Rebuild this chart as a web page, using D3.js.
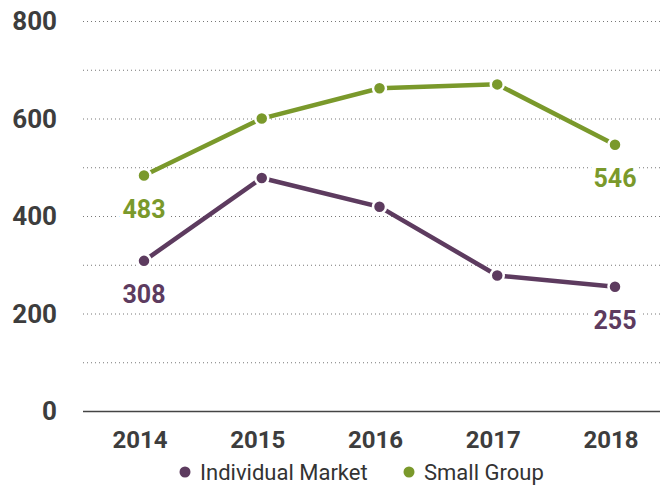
<!DOCTYPE html>
<html>
<head>
<meta charset="utf-8">
<script src="https://cdn.jsdelivr.net/npm/d3@7"></script>
<style>
  body { margin: 0; background: #fff; }
  svg text { font-family: Roboto, "Noto Sans", sans-serif; }
  .halo { paint-order: stroke; stroke: #fff; stroke-width: 10px; stroke-linejoin: round; }
</style>
</head>
<body>
<div id="chart"></div>
<script>
var years = ["2014", "2015", "2016", "2017", "2018"];
var individualMarket = [308, 478, 419, 278, 255];
var smallGroup = [483, 600, 662, 670, 546];
var yTicks = [0, 200, 400, 600, 800];
var gridTicks = [100, 200, 300, 400, 500, 600, 700, 800];

var width = 660, height = 486;
var purple = "#5d3b5f", green = "#7a992b";

var svg = d3.select("#chart").append("svg")
    .attr("width", width)
    .attr("height", height);

var x = d3.scalePoint().domain(years).range([144, 615]);
var y = d3.scaleLinear().domain([0, 800]).range([411, 21]);

// dotted grid
svg.append("g").selectAll("line")
    .data(gridTicks).enter()
    .append("line")
    .attr("x1", 83).attr("x2", 660)
    .attr("y1", function(d){ return y(d) + 0.5; })
    .attr("y2", function(d){ return y(d) + 0.5; })
    .attr("stroke", "#777")
    .attr("stroke-width", 1)
    .attr("stroke-dasharray", "1,3");

// baseline
svg.append("line")
    .attr("x1", 83).attr("x2", 660)
    .attr("y1", y(0) + 0.5).attr("y2", y(0) + 0.5)
    .attr("stroke", "#444")
    .attr("stroke-width", 1.5);

// y axis labels
svg.append("g").selectAll("text")
    .data(yTicks).enter()
    .append("text")
    .attr("x", 57)
    .attr("y", function(d){ return y(d); })
    .attr("dy", "0.36em")
    .attr("text-anchor", "end")
    .style("font-size", "26px")
    .style("font-weight", "bold")
    .style("fill", "#3d3d3d")
    .text(function(d){ return d; });

// x axis labels
svg.append("g").selectAll("text")
    .data(years).enter()
    .append("text")
    .attr("x", function(d){ return x(d) - 4; })
    .attr("y", 448)
    .attr("text-anchor", "middle")
    .style("font-size", "24px")
    .style("font-weight", "bold")
    .style("fill", "#3d3d3d")
    .text(function(d){ return d; });

var series = [
    {name: "Individual Market", values: individualMarket, color: purple},
    {name: "Small Group", values: smallGroup, color: green}
];

var line = d3.line()
    .x(function(d, i){ return x(years[i]); })
    .y(function(d){ return y(d); });

series.forEach(function(s){
    svg.append("path")
        .attr("d", line(s.values))
        .attr("fill", "none")
        .attr("stroke", s.color)
        .attr("stroke-width", 4.5);

    svg.append("g").selectAll("circle")
        .data(s.values).enter()
        .append("circle")
        .attr("cx", function(d, i){ return x(years[i]); })
        .attr("cy", function(d){ return y(d); })
        .attr("r", 6.5)
        .attr("fill", s.color)
        .attr("stroke", "#fff")
        .attr("stroke-width", 2.5);

    // value labels under first and last points
    [0, s.values.length - 1].forEach(function(i){
        svg.append("text")
            .attr("class", "halo")
            .attr("x", x(years[i]))
            .attr("y", y(s.values[i]) + 42)
            .attr("text-anchor", "middle")
            .style("font-size", "25px")
            .style("font-weight", "bold")
            .style("fill", s.color)
            .text(s.values[i]);
    });
});

// legend
var legend = svg.append("g").attr("transform", "translate(0,472)");
var legendX = [185, 409];
series.forEach(function(s, i){
    legend.append("circle")
        .attr("cx", legendX[i]).attr("cy", 0)
        .attr("r", 5.5)
        .attr("fill", s.color);
    legend.append("text")
        .attr("x", legendX[i] + 15)
        .attr("y", 0)
        .attr("dy", "0.35em")
        .style("font-size", "22px")
        .style("fill", "#333")
        .text(s.name);
});
</script>
</body>
</html>
